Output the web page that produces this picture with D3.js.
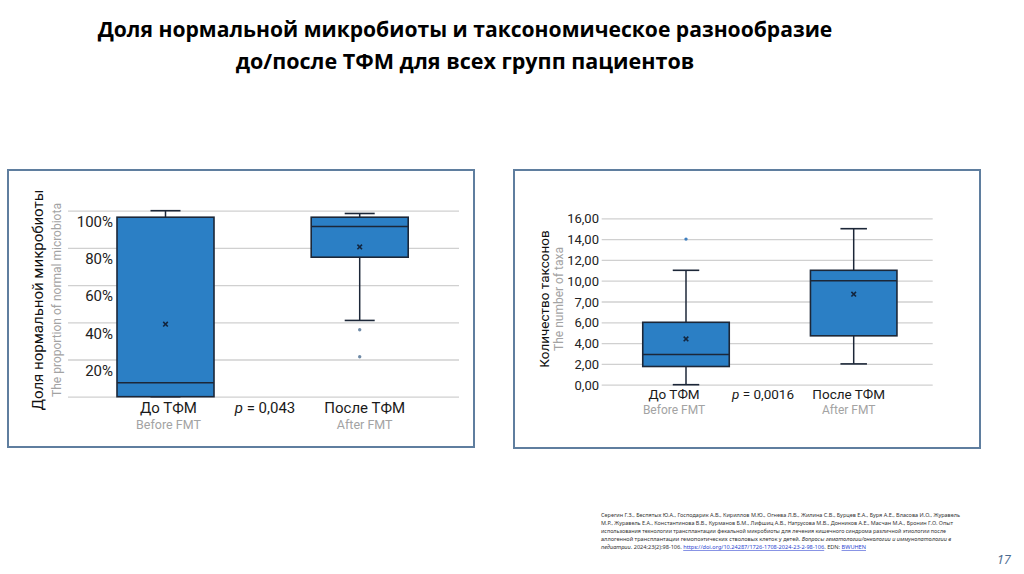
<!DOCTYPE html>
<html><head><meta charset="utf-8">
<script src="https://cdn.jsdelivr.net/npm/d3@7"></script>
<style>
html,body{margin:0;padding:0;background:#fff;}
svg{display:block;}
</style></head>
<body>
<svg id="c" width="1024" height="574"></svg>
<script>
// ---------- DATA ----------
const categoriesRu = ["До ТФМ", "После ТФМ"];
const categoriesEn = ["Before FMT", "After FMT"];

// Panel A: proportion of normal microbiota (%)
const microbiotaMin    = [0, 41];
const microbiotaQ1     = [0, 75];
const microbiotaMedian = [7.5, 91.5];
const microbiotaQ3     = [96.5, 96.5];
const microbiotaMax    = [100, 98.5];
const microbiotaMean   = [39, 80.5];
const microbiotaOutliers = [[], [36, 21.5]];
const microbiotaTicks  = [0, 20, 40, 60, 80, 100];
const microbiotaTickLabels = ["", "20%", "40%", "60%", "80%", "100%"];
const microbiotaP = "0,043";

// Panel B: number of taxa
const taxaMin    = [0, 2];
const taxaQ1     = [1.75, 4.7];
const taxaMedian = [2.9, 10];
const taxaQ3     = [6, 11];
const taxaMax    = [11, 15];
const taxaMean   = [4.4, 8.7];
const taxaOutliers = [[14], []];
const taxaTicks  = [0, 2, 4, 6, 8, 10, 12, 14, 16];
const taxaTickLabels = ["0,00","2,00","4,00","6,00","7,00","10,00","12,00","14,00","16,00"];
const taxaP = "0,0016";

const titleLines = ["Доля нормальной микробиоты и таксономическое разнообразие",
                    "до/после ТФМ для всех групп пациентов"];
const citationLines = [
  [{t:"Серегин Г.З., Беспятых Ю.А., Господарик А.В., Кириллов М.Ю., Огнева Л.В., Жилина С.В., Бурцев Е.А., Буря А.Е., Власова И.О., Журавель"}],
  [{t:"М.Р., Журавель Е.А., Константинова В.В., Курманов Б.М., Лифшиц А.В., Натрусова М.В., Донников А.Е., Масчан М.А., Бронин Г.О. Опыт"}],
  [{t:"использования технологии трансплантации фекальной микробиоты для лечения кишечного синдрома различной этиологии после"}],
  [{t:"аллогенной трансплантации гемопоэтических стволовых клеток у детей. "},{t:"Вопросы гематологии/онкологии и иммунопатологии в", i:true}],
  [{t:"педиатрии", i:true},{t:". 2024;23(2):98-106. "},{t:"https://doi.org/10.24287/1726-1708-2024-23-2-98-106", link:true},{t:". EDN: "},{t:"BWUHEN", link:true}]
];
const pageNumber = "17";

// ---------- DRAW ----------
const svg = d3.select("#c");
const FONT = "Roboto, 'Noto Sans', sans-serif";
const BOX = "#2b7fc5", STROKE = "#1c2738", GRID = "#d0d0d0", GRAY = "#a3a3a3";

// Title
const title = svg.append("g").attr("font-family", "'Open Sans', sans-serif").attr("font-weight", "bold")
  .attr("fill", "#000").attr("text-anchor", "middle");
titleLines.forEach((l, i) => {
  const t = title.append("text").attr("x", 465).attr("y", 37 + i * 32).attr("font-size", 20).text(l);
  const target = i === 0 ? 735 : 459;
  const w = t.node().getComputedTextLength();
  t.attr("font-size", 20 * target / w);
});

function panel(cfg) {
  const g = svg.append("g");
  g.append("rect").attr("x", cfg.frame[0]).attr("y", cfg.frame[1])
    .attr("width", cfg.frame[2] - cfg.frame[0]).attr("height", cfg.frame[3] - cfg.frame[1])
    .attr("fill", "#fff").attr("stroke", "#5f7e9f").attr("stroke-width", 2);

  const y = d3.scaleLinear().domain(cfg.domain).range([cfg.y0, cfg.y1]);
  const x = d3.scalePoint().domain(categoriesRu).range(cfg.xr);

  // gridlines
  g.append("g").attr("transform", `translate(${cfg.gx0},0)`)
    .call(d3.axisLeft(y).tickValues(cfg.ticks).tickSize(-(cfg.gx1 - cfg.gx0)).tickFormat(""))
    .call(a => a.select(".domain").remove())
    .call(a => a.selectAll("line").attr("stroke", GRID).attr("stroke-width", 1.3));

  // tick labels
  g.append("g").attr("transform", `translate(${cfg.lx},0)`)
    .call(d3.axisLeft(y).tickValues(cfg.ticks).tickSize(0).tickPadding(0)
      .tickFormat((d, i) => cfg.tickLabels[i]))
    .call(a => a.select(".domain").remove())
    .call(a => a.selectAll("text").attr("font-family", FONT).attr("font-size", cfg.tickSize)
      .attr("fill", "#222").attr("dy", cfg.labelDy));

  const bw = cfg.boxW, cw = cfg.capW;
  const data = categoriesRu.map((c, i) => ({c, i,
    min: cfg.min[i], q1: cfg.q1[i], med: cfg.med[i], q3: cfg.q3[i], max: cfg.max[i], mean: cfg.mean[i], out: cfg.out[i]}));
  const b = g.selectAll(".bx").data(data).join("g");
  b.append("line").attr("x1", d => x(d.c)).attr("x2", d => x(d.c))
    .attr("y1", d => y(d.max)).attr("y2", d => y(d.min)).attr("stroke", STROKE).attr("stroke-width", 1.5);
  b.append("line").attr("x1", d => x(d.c) - cw / 2).attr("x2", d => x(d.c) + cw / 2)
    .attr("y1", d => y(d.max)).attr("y2", d => y(d.max)).attr("stroke", STROKE).attr("stroke-width", 1.6);
  b.append("line").attr("x1", d => x(d.c) - cw / 2).attr("x2", d => x(d.c) + cw / 2)
    .attr("y1", d => y(d.min)).attr("y2", d => y(d.min)).attr("stroke", STROKE).attr("stroke-width", 1.6);
  b.append("rect").attr("x", d => x(d.c) - bw / 2).attr("width", bw)
    .attr("y", d => y(d.q3)).attr("height", d => y(d.q1) - y(d.q3))
    .attr("fill", BOX).attr("stroke", STROKE).attr("stroke-width", 1.6);
  b.append("line").attr("x1", d => x(d.c) - bw / 2).attr("x2", d => x(d.c) + bw / 2)
    .attr("y1", d => y(d.med)).attr("y2", d => y(d.med)).attr("stroke", STROKE).attr("stroke-width", 1.6);
  b.append("path").attr("d", d => {
      const cx = x(d.c), cy = y(d.mean), s = 2.3;
      return `M${cx - s},${cy - s}L${cx + s},${cy + s}M${cx - s},${cy + s}L${cx + s},${cy - s}`;
    }).attr("stroke", "#13263f").attr("stroke-width", 1.6);
  b.selectAll("circle").data(d => d.out.map(v => ({c: d.c, v}))).join("circle")
    .attr("cx", d => x(d.c)).attr("cy", d => y(d.v)).attr("r", 1.7).attr("fill", cfg.outColor);

  // category labels
  const lab = g.append("g").attr("font-family", FONT).attr("text-anchor", "middle");
  categoriesRu.forEach((c, i) => {
    lab.append("text").attr("x", x(c) + cfg.labShift[i]).attr("y", cfg.catY).attr("font-size", cfg.catSize)
      .attr("fill", "#1a1a1a").text(c);
    lab.append("text").attr("x", x(c) + cfg.labShift[i]).attr("y", cfg.catY + cfg.subGap).attr("font-size", cfg.subSize)
      .attr("fill", GRAY).text(categoriesEn[i]);
  });
  const pt = lab.append("text").attr("x", cfg.pX).attr("y", cfg.catY).attr("font-size", cfg.catSize).attr("fill", "#1a1a1a");
  pt.append("tspan").attr("font-style", "italic").text("p");
  pt.append("tspan").text(" = " + cfg.p);

  // axis titles
  g.append("text").attr("transform", `translate(${cfg.t1x},${cfg.tcy}) rotate(-90)`)
    .attr("text-anchor", "middle").attr("font-family", FONT).attr("font-size", cfg.t1Size)
    .attr("fill", "#111").text(cfg.t1);
  g.append("text").attr("transform", `translate(${cfg.t2x},${cfg.tcy}) rotate(-90)`)
    .attr("text-anchor", "middle").attr("font-family", FONT).attr("font-size", cfg.t2Size)
    .attr("fill", GRAY).text(cfg.t2);
}

panel({
  frame: [8, 170, 474, 447], domain: [0, 100], y0: 396.7, y1: 210.7,
  xr: [165.5, 359.7], gx0: 68, gx1: 459, lx: 113, ticks: microbiotaTicks, tickLabels: microbiotaTickLabels,
  tickSize: 15, labelDy: "1.05em",
  boxW: 97, capW: 30,
  min: microbiotaMin, q1: microbiotaQ1, med: microbiotaMedian, q3: microbiotaQ3, max: microbiotaMax,
  mean: microbiotaMean, out: microbiotaOutliers, outColor: "#6f8aa6",
  catY: 413, subGap: 16, catSize: 15, subSize: 12.5, labShift: [3, 5], pX: 265, p: microbiotaP,
  t1: "Доля нормальной микробиоты", t2: "The proportion of normal microbiota",
  t1x: 43, t2x: 61, tcy: 300, t1Size: 15, t2Size: 12
});

panel({
  frame: [514, 170, 980, 448], domain: [0, 16], y0: 384.7, y1: 218.3,
  xr: [686, 853.7], gx0: 601.7, gx1: 932.7, lx: 599, ticks: taxaTicks, tickLabels: taxaTickLabels,
  tickSize: 13, labelDy: "0.35em",
  boxW: 86.5, capW: 26.5,
  min: taxaMin, q1: taxaQ1, med: taxaMedian, q3: taxaQ3, max: taxaMax,
  mean: taxaMean, out: taxaOutliers, outColor: "#3f7fc0",
  catY: 399, subGap: 15, catSize: 13.5, subSize: 12, labShift: [-12, -5], pX: 763, p: taxaP,
  t1: "Количество таксонов", t2: "The number of taxa",
  t1x: 549, t2x: 563, tcy: 299, t1Size: 13.5, t2Size: 12
});

// citation
const cit = svg.append("g").attr("font-family", "'Noto Sans', sans-serif").attr("font-size", 5.6).attr("fill", "#333");
citationLines.forEach((line, i) => {
  const t = cit.append("text").attr("x", 601).attr("y", 517 + i * 8.1);
  line.forEach(s => {
    const ts = t.append("tspan").text(s.t);
    if (s.i) ts.attr("font-style", "italic");
    if (s.link) ts.attr("fill", "#2a3fd0").attr("text-decoration", "underline");
  });
  if (i < 3) {
    const target = [359, 352, 345][i];
    t.attr("textLength", target).attr("lengthAdjust", "spacingAndGlyphs");
  }
});

svg.append("text").attr("x", 1011).attr("y", 564).attr("text-anchor", "end")
  .attr("font-family", "'Open Sans', sans-serif").attr("font-style", "italic").attr("font-size", 13)
  .attr("fill", "#4a6a8f").text(pageNumber);
</script>
</body></html>
